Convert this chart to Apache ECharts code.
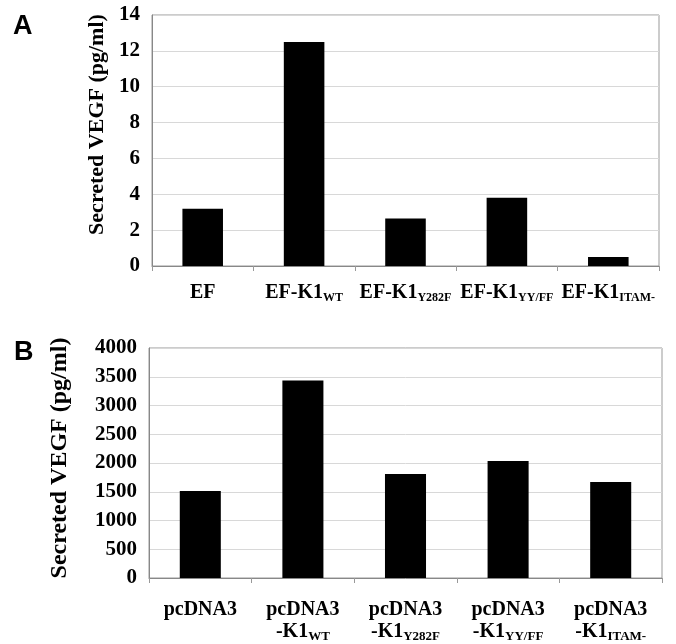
<!DOCTYPE html>
<html>
<head>
<meta charset="utf-8">
<script src="https://cdn.jsdelivr.net/npm/echarts@6/dist/echarts.min.js"></script>
<style>html,body{margin:0;padding:0;background:#fff}#c{width:676px;height:644px}</style>
</head>
<body>
<div id="c"></div>
<script>
// Panel A data
var categoriesA = ['EF', 'EF-K1_WT', 'EF-K1_Y282F', 'EF-K1_YY/FF', 'EF-K1_ITAM-'];
var valuesA = [3.2, 12.5, 2.65, 3.8, 0.5];
// Panel B data
var categoriesB = ['pcDNA3', 'pcDNA3\n-K1_WT', 'pcDNA3\n-K1_Y282F', 'pcDNA3\n-K1_YY/FF', 'pcDNA3\n-K1_ITAM-'];
var valuesB = [1515, 3435, 1810, 2035, 1670];
var yTitle = 'Secreted VEGF (pg/ml)';

var serif = '"Liberation Serif","Times New Roman",serif';

function fmt(v) {
  return v.split('\n').map(function (line) {
    var p = line.split('_');
    return '{m|' + p[0] + '}' + (p[1] ? '{s|' + p[1] + '}' : '');
  }).join('\n');
}

function yAxis(gi, max, interval, gap, nameSize, nameShift) {
  return {
    type: 'value', gridIndex: gi, min: 0, max: max, interval: interval,
    name: yTitle, nameLocation: 'middle', nameGap: gap,
    nameTextStyle: {fontFamily: serif, fontWeight: 'bold', fontSize: nameSize, color: '#000', padding: [0, 0, 0, nameShift]},
    axisLine: {show: true, lineStyle: {color: '#888', width: 1}},
    axisTick: {show: false},
    axisLabel: {fontFamily: serif, fontWeight: 'bold', fontSize: 21, color: '#000', margin: 12,
      formatter: function (v) { return String(v); }},
    splitLine: {show: true, lineStyle: {color: '#d8d8d8', width: 1}}
  };
}

function xAxis(gi, cats, margin, subSize, subLH, lh) {
  return {
    type: 'category', gridIndex: gi, data: cats,
    axisLine: {show: true, lineStyle: {color: '#888', width: 1}},
    axisTick: {show: true, length: 5, lineStyle: {color: '#999'}},
    axisLabel: {
      interval: 0, margin: margin, formatter: fmt,
      rich: {
        m: {fontFamily: serif, fontWeight: 'bold', fontSize: 20, color: '#000', lineHeight: lh},
        s: {fontFamily: serif, fontWeight: 'bold', fontSize: subSize, color: '#000', lineHeight: subLH, verticalAlign: 'bottom'}
      }
    }
  };
}

var chart = echarts.init(document.getElementById('c'), null, {renderer: 'canvas'});
chart.setOption({
  animation: false,
  backgroundColor: '#fff',
  title: [
    {text: 'A', left: 8, top: 8, textStyle: {fontFamily: '"Liberation Sans",Arial,sans-serif', fontWeight: 'bold', fontSize: 27, color: '#000'}},
    {text: 'B', left: 9, top: 334, textStyle: {fontFamily: '"Liberation Sans",Arial,sans-serif', fontWeight: 'bold', fontSize: 27, color: '#000'}}
  ],
  grid: [
    {left: 152, top: 15, width: 507, height: 251, show: true, borderColor: '#999', borderWidth: 1, containLabel: false},
    {left: 149, top: 348, width: 513, height: 230, show: true, borderColor: '#999', borderWidth: 1, containLabel: false}
  ],
  xAxis: [xAxis(0, categoriesA, 16, 12, 16, 22), xAxis(1, categoriesB, 21, 13, 8, 22)],
  yAxis: [yAxis(0, 14, 2, 40, 22, 32), yAxis(1, 4000, 500, 77, 24, 10)],
  series: [
    {type: 'bar', xAxisIndex: 0, yAxisIndex: 0, data: valuesA, barWidth: '40%', itemStyle: {color: '#000'}},
    {type: 'bar', xAxisIndex: 1, yAxisIndex: 1, data: valuesB, barWidth: '40%', itemStyle: {color: '#000'}}
  ]
});
</script>
</body>
</html>
